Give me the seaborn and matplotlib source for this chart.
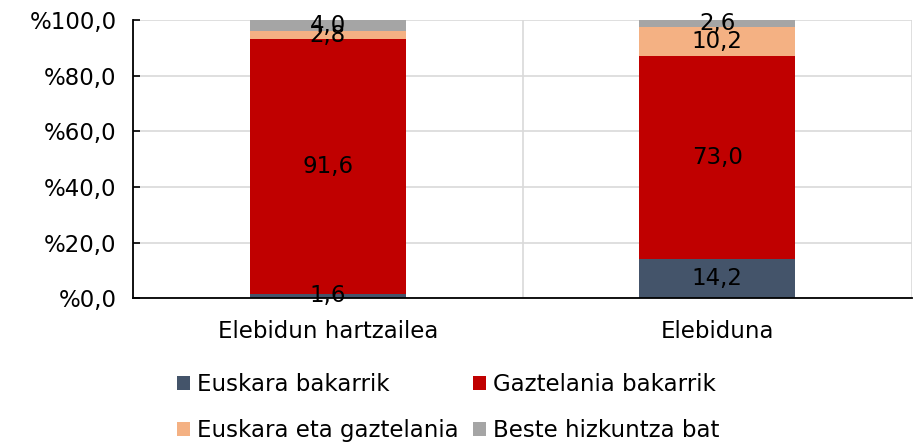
import matplotlib.pyplot as plt
import seaborn as sb
import numpy as np
from matplotlib.ticker import FuncFormatter, FixedLocator

categories = ["Elebidun hartzailea", "Elebiduna"]
series = ["Euskara bakarrik", "Gaztelania bakarrik", "Euskara eta gaztelania", "Beste hizkuntza bat"]
euskara = [1.6, 14.2]
gaztelania = [91.6, 73.0]
biak = [2.8, 10.2]
beste = [4.0, 2.6]
colors = ["#44546A", "#C00000", "#F4B183", "#A5A5A5"]

sb.set_style("white")
plt.rcParams['font.family'] = ['DejaVu Sans']
plt.rcParams['text.color'] = 'black'
fs = 16.5

fig = plt.figure(figsize=(9.24, 4.47), dpi=100)
ax = fig.add_axes([0.144, 0.333, 0.843, 0.622])

bottom = np.zeros(len(categories))
for name, vals, c in zip(series, [euskara, gaztelania, biak, beste], colors):
    sb.barplot(x=categories, y=vals, bottom=bottom, color=c, saturation=1,
               width=0.4, label=name, linewidth=0, ax=ax)
    cont = ax.containers[-1]
    ax.bar_label(cont, labels=[f"{v:.1f}".replace(".", ",") for v in vals],
                 label_type='center', fontsize=fs, color='black')
    bottom = bottom + np.array(vals)

ax.set_xlim(-0.5, 1.5)
ax.set_ylim(0, 100)
ax.set_yticks([0, 20, 40, 60, 80, 100])
ax.yaxis.set_major_formatter(FuncFormatter(lambda v, p: "%" + f"{v:.1f}".replace(".", ",")))
ax.xaxis.set_minor_locator(FixedLocator([-0.5, 0.5, 1.5]))
ax.tick_params(axis='x', which='major', length=0, pad=16, labelsize=fs, labelcolor='black')
ax.tick_params(axis='x', which='minor', direction='in', length=5, width=1.2, color='black')
ax.tick_params(axis='y', direction='in', length=5, width=1.2, color='black', left=True,
               pad=12, labelsize=fs, labelcolor='black')
ax.grid(axis='y', color='#D9D9D9', linewidth=1.2)
ax.grid(axis='x', which='minor', color='#D9D9D9', linewidth=1.2)
ax.set_axisbelow(True)
for s in ['top', 'right']:
    ax.spines[s].set_visible(False)
for s in ['left', 'bottom']:
    ax.spines[s].set_color('black')
    ax.spines[s].set_linewidth(1.3)
ax.set_xlabel('')
ax.set_ylabel('')
if ax.get_legend():
    ax.get_legend().remove()

h, l = ax.get_legend_handles_labels()
order = [0, 2, 1, 3]
fig.legend([h[i] for i in order], [l[i] for i in order], ncol=2, frameon=False,
           loc='center', bbox_to_anchor=(0.485, 0.088), handlelength=0.6,
           handleheight=0.6, handletextpad=0.3, columnspacing=0.6,
           labelspacing=1.0, fontsize=fs)

plt.savefig('out.png', dpi=100)
plt.close()
